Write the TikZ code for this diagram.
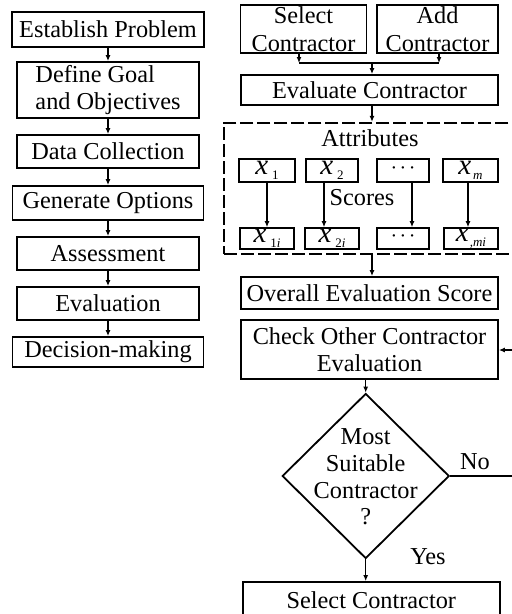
\documentclass[tikz,border=0pt]{standalone}
\usepackage{fontspec}
\setmainfont{Liberation Serif}
\usetikzlibrary{shapes.geometric,arrows.meta}
\newcommand{\xsub}[2][4pt]{{\fontsize{29}{29}\selectfont\itshape x}\hspace{#1}\raisebox{-5pt}{\fontsize{13}{13}\selectfont #2}}
\newcommand{\mdots}{{\fontsize{20}{20}\selectfont ·\hspace{2.5pt}·\hspace{2.5pt}·}}
\begin{document}
\begin{tikzpicture}[x=1pt,y=-1pt,
  box/.style={draw, line width=1.8pt, inner sep=0pt, align=center, font=\fontsize{24.3}{27.5}\selectfont},
  sbox/.style={draw, line width=1.6pt, inner sep=0pt},
  arr/.style={line width=1.5pt, -{Latex[length=6pt,width=5pt]}},
  ln/.style={line width=1.5pt},
  lbl/.style={font=\fontsize{24.3}{26.7}\selectfont, inner sep=0pt, align=center}]
\useasboundingbox (0,0) rectangle (512,614);
% left column
\node[box, minimum width=192pt, minimum height=35pt] (ep) at (108,29.5) {Establish Problem};
\node[box, minimum width=182pt, minimum height=56pt, align=left] (dg) at (108,90) {Define Goal\\and Objectives};
\node[box, minimum width=182pt, minimum height=33pt] (dc) at (108,151.5) {Data Collection};
\node[box, minimum width=191pt, minimum height=34pt] (go) at (108,203) {Generate Options};
\node[box, minimum width=182pt, minimum height=33pt] (as) at (108,253.5) {Assessment};
\node[box, minimum width=182pt, minimum height=33pt] (ev) at (108,303.5) {Evaluation};
\node[box, minimum width=191pt, minimum height=30pt] (dm) at (108,352) {Decision-making};
\draw[arr] (ep) -- (dg);
\draw[arr] (dg) -- (dc);
\draw[arr] (dc) -- (go);
\draw[arr] (go) -- (as);
\draw[arr] (as) -- (ev);
\draw[arr] (ev) -- (dm);
% right column
\node[box, minimum width=126pt, minimum height=48pt] (sc) at (303.5,29) {Select\\Contractor};
\node[box, minimum width=121pt, minimum height=48pt] (ac) at (437.5,29) {Add\\Contractor};
\node[box, minimum width=257pt, minimum height=30pt] (ec) at (369.5,90) {Evaluate Contractor};
\coordinate (jl) at (299,63);
\coordinate (jr) at (439,63);
\coordinate (jm) at (372,63);
\draw[arr] (sc.south -| jl) -- (jl);
\draw[arr] (ac.south -| jr) -- (jr);
\draw[ln] (jl) -- (jr);
\draw[arr] (jm) -- (ec.north -| jm);
% attributes block
\node[draw, dashed, dash pattern=on 13pt off 4pt, line width=1.8pt, minimum width=306pt, minimum height=131.3pt, inner sep=0pt] (ab) at (377,188.35) {};
\draw[arr] (ec.south -| jm) -- (ab.north -| jm);
\node[lbl] (atl) at (370,138) {Attributes};
\node[lbl] (scl) at (362,198) {Scores};
\node[sbox, minimum width=56pt, minimum height=23pt] (a1) at (267,170.5) {\xsub{1}};
\node[sbox, minimum width=52pt, minimum height=23pt] (a2) at (332,170.5) {\xsub{2}};
\node[sbox, minimum width=52pt, minimum height=23pt] (a3) at (403,170.5) {\mdots};
\node[sbox, minimum width=55pt, minimum height=23pt] (am) at (470.5,170.5) {\xsub[2pt]{\itshape m}};
\node[sbox, minimum width=54pt, minimum height=21pt] (b1) at (267,238.5) {\xsub{1\itshape i}};
\node[sbox, minimum width=54pt, minimum height=21pt] (b2) at (332,238.5) {\xsub{2\itshape i}};
\node[sbox, minimum width=52pt, minimum height=21pt] (b3) at (403,238.5) {\mdots};
\node[sbox, minimum width=54pt, minimum height=21pt] (bm) at (471,238.5) {\xsub[1pt]{\itshape ,mi}};
\draw[arr] (a1) -- (b1);
\draw[arr] ([xshift=-8pt]a2.south) -- ([xshift=-8pt]b2.north);
\draw[arr] ([xshift=9pt]a3.south) -- ([xshift=9pt]b3.north);
\draw[arr] ([xshift=-2.5pt]am.south) -- ([xshift=-3pt]bm.north);
% lower part
\node[box, minimum width=257pt, minimum height=32pt] (ov) at (369.5,293) {Overall Evaluation Score};
\draw[arr] (ab.south -| jm) -- (ov.north -| jm);
\node[box, minimum width=257pt, minimum height=59pt] (ch) at (369.5,349.5) {Check Other Contractor\\Evaluation};
\node[diamond, draw, line width=1.8pt, minimum width=167pt, minimum height=165pt, inner sep=0pt] (dia) at (365.7,476) {};
\node[lbl] (dtx) at (365.7,477) {Most\\Suitable\\Contractor\\?};
\draw[arr] (ch.south -| dia.north) -- (dia.north);
\coordinate (rbot) at (530,476);
\coordinate (rtop) at (530,350);
\draw[ln] (dia.east) -- (rbot) -- (rtop);
\draw[arr] (rtop) -- (ch.east |- rtop);
\node[lbl] (no) at (475,462) {No};
\node[lbl] (yes) at (428,557) {Yes};
\node[box, minimum width=257pt, minimum height=36pt] (sel) at (371.3,600) {Select Contractor};
\draw[arr] (dia.south) -- (sel.north -| dia.south);
\end{tikzpicture}
\end{document}
